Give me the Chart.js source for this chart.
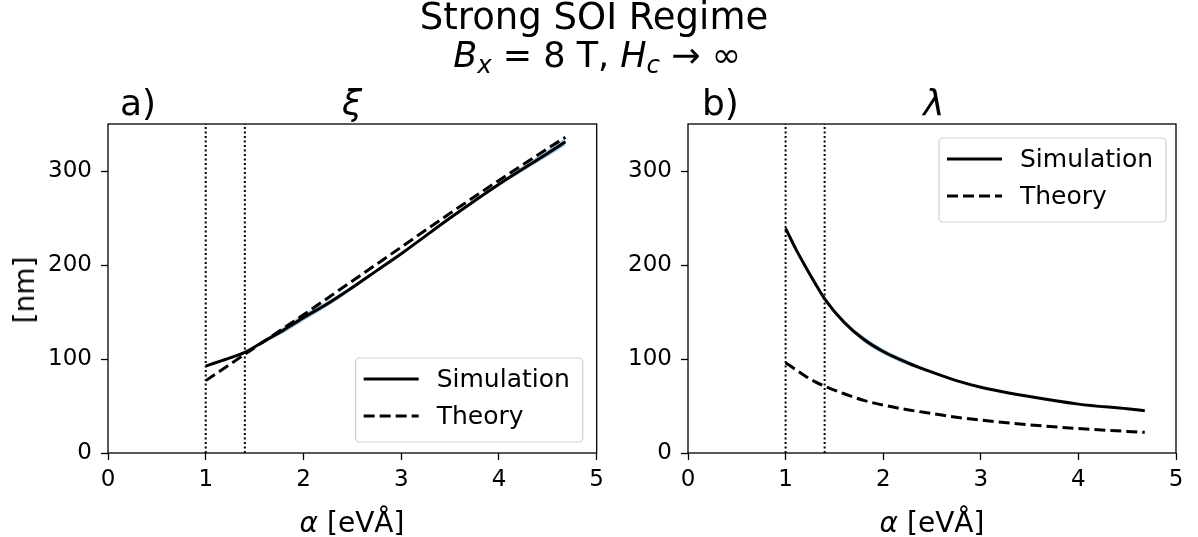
<!DOCTYPE html>
<html>
<head>
<meta charset="utf-8">
<script src="https://cdn.jsdelivr.net/npm/chart.js@4.4.0/dist/chart.umd.min.js"></script>
<style>
  body { margin: 0; background: #fff; }
  #fig { position: relative; width: 1198px; height: 537px; overflow: hidden; font-family: 'DejaVu Sans', sans-serif; color: #000; }
  .panel { position: absolute; top: 0; height: 537px; }
  .txt { position: absolute; white-space: nowrap; line-height: 40px; }
  .c { transform: translateX(-50%); }
  i { font-style: italic; }
  sub { font-size: 0.7em; vertical-align: -0.25em; line-height: 0; }
</style>
</head>
<body>
<div id="fig">
  <div class="panel" style="left:0;width:610px"><canvas id="xiChart"></canvas></div>
  <div class="panel" style="left:610px;width:588px"><canvas id="lamChart"></canvas></div>

  <div class="txt c" style="left:594px;top:-3px;font-size:37px">Strong SOI Regime</div>
  <div class="txt c" style="left:597px;top:35px;font-size:35px"><i>B<sub>x</sub></i> = 8 T, <i>H<sub>c</sub></i> → ∞</div>

  <div class="txt" style="left:120px;top:83px;font-size:36px">a)</div>
  <div class="txt c" style="left:352px;top:83px;font-size:36px"><i>ξ</i></div>
  <div class="txt" style="left:702px;top:83px;font-size:36px">b)</div>
  <div class="txt c" style="left:934px;top:83px;font-size:36px"><i>λ</i></div>

  <div class="txt c" style="left:352px;top:503px;font-size:28px"><i>α</i> [eVÅ]</div>
  <div class="txt c" style="left:932px;top:503px;font-size:28px"><i>α</i> [eVÅ]</div>
  <div class="txt" style="left:25px;top:290px;font-size:28px;transform:translate(-50%,-50%) rotate(-90deg)">[nm]</div>
</div>

<script>
// alpha values (eV·Å) shared by both panels
const alpha = [1.0, 1.1, 1.2, 1.3, 1.4, 1.6, 1.8, 2.0, 2.25, 2.5, 2.75, 3.0, 3.5, 4.0, 4.5, 4.68];

// panel a) coherence length xi [nm]
const xiSim    = [92.5, 96, 99.5, 103, 107, 119, 131, 144, 159, 176, 194, 212, 250, 286, 319, 331];
const xiTheory = [77, 84, 91, 98, 105, 119, 133, 147, 165, 183, 201, 219, 255, 290, 324, 336];
const xiSpread = [1, 1, 1, 1, 1, 1.5, 3, 3.5, 3, 2, 1.5, 1.5, 1.5, 2, 3.5, 4];

// panel b) penetration depth lambda [nm]
const lamSim    = [239, 218, 199, 181, 164, 139, 121, 108, 96, 86, 77, 70, 60, 52, 47, 45];
const lamTheory = [96, 89, 82, 76, 71, 63, 56, 51, 46, 42, 38, 35, 30, 26, 23, 22];
const lamSpread = [0.5, 0.5, 0.5, 0.5, 1, 1.5, 3, 3, 2.5, 1, 0.5, 0.5, 0.5, 0.5, 0.5, 0.5];

const seriesNames = ['Simulation', 'Theory'];
const regionBounds = [1.0, 1.4];
const xTicks = [0, 1, 2, 3, 4, 5];
const yTicks = [0, 100, 200, 300];

Chart.defaults.font.family = "'DejaVu Sans', sans-serif";
Chart.defaults.font.size = 23;
Chart.defaults.color = '#000';

const pts = (xs, ys) => xs.map((x, i) => ({ x: x, y: ys[i] }));

// full box around the plotting area, like matplotlib spines
const frame = {
  id: 'frame',
  afterDatasetsDraw(chart) {
    const a = chart.chartArea, ctx = chart.ctx;
    ctx.save();
    ctx.strokeStyle = '#000';
    ctx.lineWidth = 1.3;
    ctx.strokeRect(a.left, a.top, a.right - a.left, a.bottom - a.top);
    ctx.restore();
  }
};

// legend box drawn inside the axes
const boxLegend = {
  id: 'boxLegend',
  afterDraw(chart, args, opts) {
    const a = chart.chartArea, ctx = chart.ctx;
    const w = 227, h = 84;
    const x = a.right - opts.dx - w;
    const y = opts.corner === 'bottom' ? a.bottom - opts.dy - h : a.top + opts.dy;
    ctx.save();
    ctx.fillStyle = 'rgba(255,255,255,0.8)';
    ctx.strokeStyle = '#d0d0d0';
    ctx.lineWidth = 1.2;
    ctx.beginPath();
    ctx.roundRect(x, y, w, h, 4);
    ctx.fill();
    ctx.stroke();
    seriesNames.forEach((name, i) => {
      const ly = y + 21 + i * 37;
      ctx.strokeStyle = '#000';
      ctx.lineWidth = 3;
      ctx.setLineDash(i === 0 ? [] : [11, 5]);
      ctx.beginPath();
      ctx.moveTo(x + 8, ly);
      ctx.lineTo(x + 63, ly);
      ctx.stroke();
      ctx.setLineDash([]);
      ctx.fillStyle = '#000';
      ctx.font = "25px 'DejaVu Sans'";
      ctx.textBaseline = 'middle';
      ctx.fillText(name, x + 81, ly + 1);
    });
    ctx.restore();
  }
};

function makePanel(id, sim, theory, spread, yAxisWidth, padRight, legendPos) {
  const ctx = document.getElementById(id).getContext('2d');
  return new Chart(ctx, {
    type: 'line',
    data: {
      datasets: [
        { label: seriesNames[0], data: pts(alpha, sim), borderColor: '#000', borderWidth: 3,
          pointRadius: 0, cubicInterpolationMode: 'monotone', fill: false },
        { label: seriesNames[1], data: pts(alpha, theory), borderColor: '#000', borderWidth: 3,
          borderDash: [11, 5], pointRadius: 0, cubicInterpolationMode: 'monotone', fill: false },
        { label: 'b1', data: [{ x: regionBounds[0], y: 0 }, { x: regionBounds[0], y: 350 }],
          borderColor: '#000', borderWidth: 2, borderDash: [2, 2.5], pointRadius: 0, fill: false },
        { label: 'b2', data: [{ x: regionBounds[1], y: 0 }, { x: regionBounds[1], y: 350 }],
          borderColor: '#000', borderWidth: 2, borderDash: [2, 2.5], pointRadius: 0, fill: false },
        { label: 'lo', data: pts(alpha, sim.map((v, i) => v - spread[i])), borderWidth: 0,
          borderColor: 'rgba(0,0,0,0)', pointRadius: 0, cubicInterpolationMode: 'monotone', fill: false },
        { label: 'hi', data: pts(alpha, sim.map((v, i) => v + spread[i])), borderWidth: 0,
          borderColor: 'rgba(0,0,0,0)', backgroundColor: 'rgba(31,119,180,0.4)', pointRadius: 0,
          cubicInterpolationMode: 'monotone', fill: '-1' }
      ]
    },
    options: {
      responsive: true,
      maintainAspectRatio: false,
      animation: false,
      events: [],
      layout: { padding: { top: 124, right: padRight, left: 0, bottom: 0 } },
      scales: {
        x: {
          type: 'linear', min: 0, max: 5,
          afterBuildTicks: s => { s.ticks = xTicks.map(v => ({ value: v })); },
          afterFit: s => { s.height = 84; },
          border: { display: false },
          grid: { drawOnChartArea: false, drawTicks: true, tickLength: 7, tickColor: '#000', tickWidth: 1.3 },
          ticks: { padding: 6, maxRotation: 0 }
        },
        y: {
          type: 'linear', min: 0, max: 350,
          afterBuildTicks: s => { s.ticks = yTicks.map(v => ({ value: v })); },
          afterFit: s => { s.width = yAxisWidth; },
          border: { display: false },
          grid: { drawOnChartArea: false, drawTicks: true, tickLength: 7, tickColor: '#000', tickWidth: 1.3 },
          ticks: { padding: 9 }
        }
      },
      plugins: {
        legend: { display: false },
        tooltip: { enabled: false },
        boxLegend: legendPos
      }
    },
    plugins: [frame, boxLegend]
  });
}

makePanel('xiChart', xiSim, xiTheory, xiSpread, 108, 13, { corner: 'bottom', dx: 14, dy: 11 });
makePanel('lamChart', lamSim, lamTheory, lamSpread, 78, 22, { corner: 'top', dx: 10, dy: 14 });
</script>
</body>
</html>
